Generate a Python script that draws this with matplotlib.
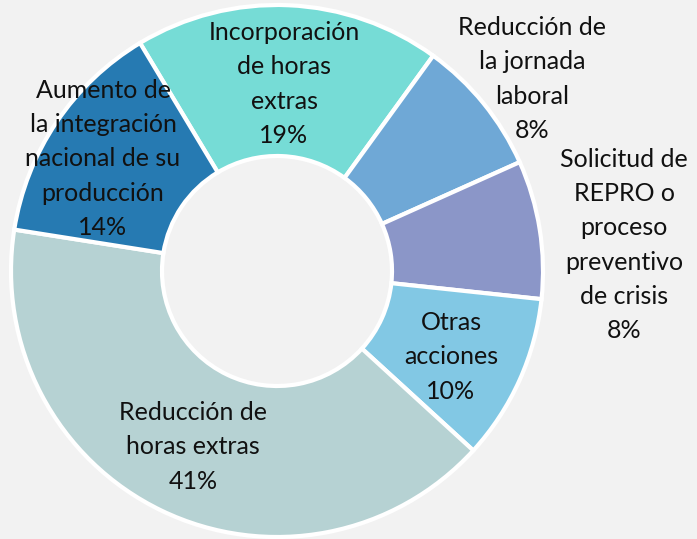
import matplotlib.pyplot as plt

# slice data, clockwise from the upper-left boundary
categories = [
    "Incorporación\nde horas\nextras",
    "Reducción de\nla jornada\nlaboral",
    "Solicitud de\nREPRO o\nproceso\npreventivo\nde crisis",
    "Otras\nacciones",
    "Reducción de\nhoras extras",
    "Aumento de\nla integración\nnacional de su\nproducción",
]
shares = [18.6, 8.3, 8.4, 10.1, 40.7, 13.9]
colors = ["#76DCD6", "#6FA8D6", "#8B96C8", "#82C8E4", "#B6D2D3", "#267AB2"]

# label centres in pixels (x, y from top)
label_pos = [(284, 84), (532, 79), (624, 245), (451, 357), (193, 447), (103, 159)]

W, H = 697, 539
plt.rcParams['font.family'] = ['Lato', 'DejaVu Sans']

fig = plt.figure(figsize=(W / 100, H / 100), dpi=100, facecolor="#F2F2F2")
ax = fig.add_axes([0, 0, 1, 1])
ax.set_facecolor("#F2F2F2")

cx, cy = 277, H - 271
r_out, r_in = 266, 115
ax.pie(shares, colors=colors, startangle=121, counterclock=False,
       radius=r_out, center=(cx, cy),
       wedgeprops=dict(width=r_out - r_in, edgecolor="white", linewidth=3))

for name, v, (x, y) in zip(categories, shares, label_pos):
    ax.text(x, H - y, f"{name}\n{v:.0f}%", ha="center", va="center",
            fontsize=18, color="#111111", linespacing=1.58)

ax.set_xlim(0, W)
ax.set_ylim(0, H)
ax.set_aspect("equal")
ax.axis("off")

fig.savefig("out.png", dpi=100, facecolor=fig.get_facecolor())
